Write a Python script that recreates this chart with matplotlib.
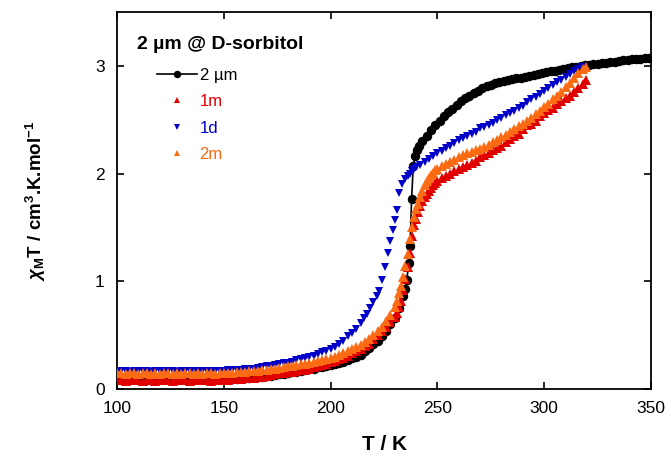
import matplotlib
matplotlib.use("Agg")
import matplotlib.pyplot as plt

plt.rcParams['font.family'] = ['Liberation Sans', 'DejaVu Sans']
plt.rcParams['mathtext.fontset'] = 'custom'
plt.rcParams['mathtext.rm'] = 'Liberation Sans:bold'
plt.rcParams['mathtext.it'] = 'Liberation Sans:italic:bold'

# temperature grids (sweep steps)
t_low = list(range(100, 152, 2)) + list(range(152, 202, 2))   # 100..200

# 2 um bulk reference (line + circles)
t_2um = (t_low + list(range(202, 236, 2))
         + [235, 235.7, 236.5, 237.2, 237.9, 238.7, 239.5, 240.5, 241.5]
         + list(range(243, 351, 2)))
chi_2um = ([0.09] * 26
           + [0.09, 0.095, 0.095, 0.10, 0.10, 0.105, 0.11, 0.11, 0.115, 0.12, 0.125, 0.13, 0.135,
              0.14, 0.15, 0.155, 0.16, 0.17, 0.175, 0.185, 0.19, 0.20, 0.205, 0.215, 0.22]
           + [0.23, 0.24, 0.255, 0.27, 0.285, 0.30, 0.32, 0.35, 0.38, 0.42, 0.45, 0.49, 0.54,
              0.60, 0.66, 0.75, 0.86]
           + [0.93, 1.01, 1.17, 1.33, 1.76, 2.07, 2.16, 2.22, 2.26]
           + [2.30, 2.35, 2.40, 2.45, 2.49, 2.53, 2.57, 2.60, 2.64, 2.67,
              2.70, 2.72, 2.75, 2.77, 2.79, 2.81, 2.82, 2.84, 2.85, 2.86,
              2.87, 2.875, 2.885, 2.89, 2.90, 2.91, 2.915, 2.925, 2.93, 2.94,
              2.95, 2.955, 2.965, 2.97, 2.98, 2.985, 2.99, 3.00, 3.005, 3.01,
              3.015, 3.02, 3.025, 3.03, 3.035, 3.04, 3.045, 3.05, 3.055, 3.06,
              3.06, 3.065, 3.07, 3.072])

# 1m
t_1m = t_low + list(range(202, 232, 2)) + list(range(231, 251)) + list(range(252, 320, 2)) + [319.5]
chi_1m = ([0.08, 0.085, 0.075, 0.08, 0.08, 0.085, 0.075, 0.08, 0.08, 0.075, 0.085, 0.08, 0.08,
           0.075, 0.08, 0.085, 0.08, 0.075, 0.08, 0.08, 0.085, 0.08, 0.075, 0.08, 0.08, 0.085]
          + [0.085, 0.09, 0.09, 0.095, 0.10, 0.10, 0.105, 0.11, 0.115, 0.12, 0.13, 0.135, 0.145,
             0.15, 0.155, 0.16, 0.17, 0.175, 0.18, 0.19, 0.20, 0.21, 0.22, 0.235, 0.25]
          + [0.26, 0.275, 0.29, 0.31, 0.33, 0.35, 0.37, 0.395, 0.42, 0.46, 0.50, 0.54, 0.58, 0.62, 0.67]
          + [0.71, 0.76, 0.82, 0.92, 1.02, 1.13, 1.26, 1.42, 1.52, 1.58,
             1.64, 1.70, 1.75, 1.78, 1.81, 1.84, 1.87, 1.89, 1.91, 1.93]
          + [1.96, 1.98, 2.00, 2.02, 2.04, 2.06, 2.08, 2.10, 2.12, 2.15,
             2.17, 2.19, 2.22, 2.24, 2.26, 2.29, 2.32, 2.35, 2.37, 2.41,
             2.45, 2.46, 2.49, 2.53, 2.56, 2.59, 2.61, 2.65, 2.67, 2.70,
             2.72, 2.76, 2.79, 2.83]
          + [2.87])

# 1d
t_1d = (t_low + list(range(202, 216, 2))
        + [215.5, 216.9, 218.4, 220, 221.5, 222.6, 224, 225.5, 227, 227.8,
           229, 230, 230.9, 232.1, 233.5, 235, 236, 237, 238, 239, 240]
        + list(range(242, 318, 2)) + [317.5])
chi_1d = ([0.17, 0.165, 0.17, 0.16, 0.17, 0.165, 0.17, 0.165, 0.16, 0.17, 0.165, 0.17, 0.165,
           0.17, 0.16, 0.17, 0.165, 0.17, 0.17, 0.165, 0.17, 0.165, 0.17, 0.17, 0.165, 0.17]
          + [0.175, 0.175, 0.18, 0.18, 0.185, 0.19, 0.19, 0.195, 0.20, 0.21, 0.215, 0.22, 0.23,
             0.24, 0.245, 0.255, 0.265, 0.275, 0.29, 0.30, 0.31, 0.325, 0.34, 0.355, 0.37]
          + [0.39, 0.42, 0.45, 0.49, 0.52, 0.56, 0.61]
          + [0.66, 0.70, 0.75, 0.81, 0.86, 0.91, 1.01, 1.13, 1.26, 1.37,
             1.48, 1.57, 1.66, 1.82, 1.90, 1.95, 1.98, 2.00, 2.02, 2.04, 2.06]
          + [2.08, 2.11, 2.14, 2.16, 2.19, 2.21, 2.24, 2.26, 2.28, 2.31,
             2.33, 2.35, 2.37, 2.39, 2.42, 2.43, 2.45, 2.47, 2.50, 2.52,
             2.54, 2.56, 2.58, 2.61, 2.63, 2.66, 2.69, 2.71, 2.74, 2.77,
             2.79, 2.82, 2.85, 2.87, 2.90, 2.92, 2.95, 2.97]
          + [2.99])

# 2m
t_2m = t_low + list(range(202, 232, 2)) + list(range(231, 251)) + list(range(252, 320, 2)) + [319.5]
chi_2m = ([0.15, 0.145, 0.14, 0.15, 0.145, 0.14, 0.145, 0.15, 0.14, 0.145, 0.14, 0.15, 0.145,
           0.14, 0.145, 0.14, 0.15, 0.145, 0.14, 0.145, 0.14, 0.145, 0.15, 0.14, 0.145, 0.145]
          + [0.15, 0.15, 0.155, 0.155, 0.16, 0.165, 0.165, 0.17, 0.175, 0.18, 0.185, 0.19, 0.195,
             0.20, 0.21, 0.215, 0.22, 0.23, 0.235, 0.245, 0.25, 0.26, 0.27, 0.28, 0.29]
          + [0.30, 0.315, 0.33, 0.35, 0.37, 0.39, 0.41, 0.435, 0.46, 0.50, 0.54, 0.58, 0.63, 0.69, 0.76]
          + [0.82, 0.89, 0.96, 1.04, 1.14, 1.25, 1.39, 1.50, 1.60, 1.67,
             1.72, 1.78, 1.84, 1.89, 1.93, 1.96, 1.99, 2.01, 2.03, 2.04]
          + [2.07, 2.09, 2.11, 2.13, 2.15, 2.17, 2.19, 2.20, 2.22, 2.23,
             2.25, 2.27, 2.29, 2.31, 2.34, 2.36, 2.39, 2.41, 2.44, 2.46,
             2.49, 2.52, 2.55, 2.58, 2.62, 2.65, 2.69, 2.72, 2.76, 2.80,
             2.84, 2.89, 2.93, 2.97]
          + [2.99])

c_red = '#e00000'
c_blue = '#0000c8'
c_orange = '#fa6b14'

fig = plt.figure(figsize=(6.71, 4.57), dpi=100)
ax = fig.add_axes([0.1744, 0.1488, 0.7958, 0.8249])

ax.plot(t_2um, chi_2um, '-o', color='black', lw=1.2, ms=5.8, label='2 µm', zorder=2)
ax.plot(t_1d, chi_1d, 'v', color=c_blue, ms=6, mew=0, label='1d', zorder=3)
ax.plot(t_1m, chi_1m, '^', color=c_red, ms=6.5, mew=0, label='1m', zorder=4)
ax.plot(t_2m, chi_2m, '^', color=c_orange, ms=6.5, mew=0, label='2m', zorder=5)

ax.set_xlim(100, 350)
ax.set_ylim(0, 3.5)
ax.set_xticks([100, 150, 200, 250, 300, 350])
ax.set_yticks([0, 1, 2, 3])
ax.tick_params(direction='in', top=True, right=True, length=5, width=1.2, labelsize=12.5)
ax.tick_params(axis='x', pad=9)
ax.tick_params(axis='y', pad=9)
for s in ax.spines.values():
    s.set_linewidth(1.3)

ax.set_xlabel('T / K', fontsize=15, fontweight='bold', labelpad=13)
ax.set_ylabel(r'$\chi_{\mathrm{M}}$T / cm$^{3}$.K.mol$^{-1}$', fontsize=13.5, fontweight='bold', labelpad=34)

ax.text(0.037, 0.915, '2 µm @ D-sorbitol', transform=ax.transAxes, fontsize=14,
        fontweight='bold', va='center', ha='left')

h, l = ax.get_legend_handles_labels()
order = [0, 2, 1, 3]
ax.legend([h[i] for i in order], [l[i] for i in order], loc='upper left',
          bbox_to_anchor=(0.075, 0.852), frameon=False, fontsize=12, numpoints=1,
          markerscale=0.75, handlelength=2.4, handletextpad=0.15, labelspacing=0.69,
          borderpad=0, borderaxespad=0, labelcolor='linecolor')

fig.savefig('out.png', dpi=100)
